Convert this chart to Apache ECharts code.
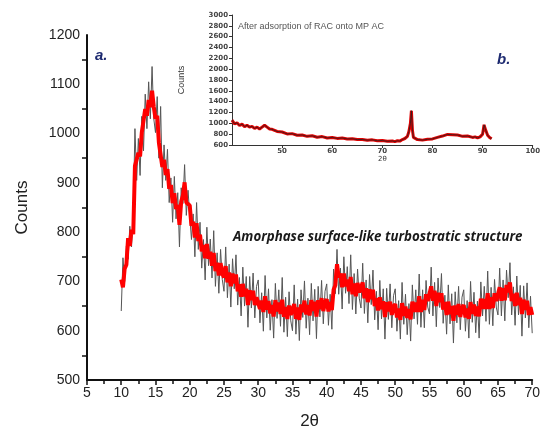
<!DOCTYPE html>
<html>
<head>
<meta charset="utf-8">
<script src="https://cdn.jsdelivr.net/npm/echarts@6/dist/echarts.min.js"></script>
<style>
  html, body { margin: 0; padding: 0; background: #fff; }
  #chart { width: 543px; height: 435px; }
</style>
</head>
<body>
<div id="chart"></div>
<script>
// main pattern, sampled every 0.25 deg from 10 to 70
var angleStart = 10
var angleStep = 0.25

// thin dark noisy trace
var rawCounts = [
  640,748,700,772,745,812,770,835,1010,905,990,915,1035,965,1080,1010,1105,1030,1136,1030,
  1002,1075,950,1055,890,977,905,968,860,910,820,913,827,880,770,890,858,937,834,885,
  885,785,837,750,860,765,820,727,785,703,810,732,786,707,803,690,758,676,765,704,
  680,770,667,735,648,746,685,754,652,708,630,729,650,710,607,710,646,717,626,690,
  703,616,677,599,712,626,685,601,663,585,696,625,683,609,708,597,668,588,679,620,
  600,693,593,664,580,683,627,701,605,666,592,696,620,684,584,690,628,702,614,680,
  695,611,674,603,725,675,765,674,727,644,750,676,730,655,754,643,716,634,725,666,
  646,737,635,703,616,714,653,723,622,680,602,702,624,685,583,686,623,695,606,671,
  685,599,661,583,698,613,674,592,655,579,693,624,683,613,715,607,683,606,702,648,
  634,729,630,698,608,707,647,716,615,672,593,693,614,675,575,679,616,690,602,668,
  683,599,661,585,700,617,678,596,660,585,699,630,690,619,721,613,688,610,704,648,
  632,727,630,703,620,723,667,738,632,689,611,711,632,692,589,691,626,697,606,670,
  595
]

// red band on top
var bandCounts = [
  704,688,726,734,788,772,805,796,934,932,961,954,1002,1000,1050,1036,1068,1054,1087,1054,
  1030,1036,981,978,932,947,916,928,888,896,859,879,847,855,815,862,874,901,860,863,
  854,813,821,789,818,782,795,761,774,747,776,746,760,732,758,721,738,712,737,716,
  708,731,698,718,690,716,696,714,680,694,669,695,670,685,652,682,662,681,652,668,
  672,644,661,638,670,643,660,635,652,629,662,639,657,634,663,628,648,624,651,632,
  628,654,624,647,622,653,638,661,633,652,631,662,640,659,629,662,644,666,640,658,
  664,639,658,642,683,692,735,708,716,688,716,690,704,680,709,674,696,670,697,678,
  674,698,666,686,658,684,664,683,650,666,641,668,644,660,628,658,639,659,632,649,
  654,627,645,622,656,630,649,626,644,623,659,638,657,638,670,638,663,642,674,660,
  662,690,661,681,650,677,658,676,643,658,632,659,634,650,620,651,632,654,628,646,
  652,627,645,624,658,634,653,630,649,629,665,644,664,644,676,644,668,646,676,660,
  660,688,661,686,662,693,678,698,660,675,650,677,652,667,634,663,642,661,632,648,
  632
]

// inset (b.)
var insetAngle = [
  40,40.5,41,41.5,42,42.5,43,43.5,44,44.5,45,45.5,46,46.5,47,47.5,48,49,50,51,
  52,53,54,55,56,57,58,59,60,61,62,63,64,65,66,67,68,69,70,71,
  72,72.5,73,73.5,74,74.5,75,75.3,75.6,75.8,76,76.2,76.5,77,78,79,80,81,82,83,
  84,85,86,87,88,88.5,89,89.5,90,90.3,90.6,91,91.4,91.8
]
var insetCounts = [
  1060,990,1010,960,985,940,965,930,945,905,930,895,930,965,930,895,890,850,840,805,
  810,780,785,760,770,742,755,730,740,722,730,712,715,700,702,688,695,678,682,668,
  675,662,678,672,700,720,760,850,1000,1233,880,740,720,700,690,705,712,740,765,795,
  790,785,760,765,740,750,730,750,800,972,880,780,740,715
]

var mainTicks = { yMin: 500, yMax: 1200, yStep: 100, xMin: 5, xMax: 70, xStep: 5 }
var insetTicks = { yMin: 600, yMax: 3000, yStep: 200, xMin: 40, xMax: 100, xStep: 10 }

function toPairs(values) {
  return values.map(function (v, i) { return [angleStart + i * angleStep, v] })
}

function plain(v) { return String(v) }

var chart = echarts.init(document.getElementById('chart'))
var font = 'Liberation Sans, Arial, sans-serif'
var insetFont = 'DejaVu Sans, sans-serif'

chart.setOption({
  animation: false,
  backgroundColor: '#fff',
  grid: [
    { left: 87, top: 35, right: 10, bottom: 53 },
    { left: 232, top: 15, right: 3, bottom: 290, show: true, backgroundColor: '#fff', borderWidth: 0, z: 10 }
  ],
  xAxis: [{
    gridIndex: 0,
    type: 'value',
    min: mainTicks.xMin,
    max: mainTicks.xMax,
    interval: mainTicks.xStep,
    name: '2\u03b8',
    nameLocation: 'middle',
    nameGap: 33,
    nameTextStyle: { fontSize: 17, color: '#222', fontFamily: font },
    axisLine: { lineStyle: { color: '#111', width: 2 } },
    axisTick: { length: 5, lineStyle: { color: '#111', width: 1.5 } },
    minorTick: { show: true, splitNumber: 2, length: 4, lineStyle: { color: '#111', width: 1.5 } },
    axisLabel: { fontSize: 14, color: '#222', fontFamily: font, margin: 6, formatter: plain },
    splitLine: { show: false }
  }, {
    gridIndex: 1,
    type: 'value',
    min: insetTicks.xMin,
    max: insetTicks.xMax,
    interval: insetTicks.xStep,
    z: 11,
    name: '2\u03b8',
    nameLocation: 'middle',
    nameGap: 11,
    nameTextStyle: { fontSize: 7, color: '#333', fontFamily: insetFont },
    axisLine: { lineStyle: { color: '#333', width: 1 } },
    axisTick: { length: 3, lineStyle: { color: '#333' } },
    axisLabel: { fontSize: 7, fontWeight: 'bold', color: '#444', fontFamily: insetFont, margin: 3, showMinLabel: false, formatter: plain },
    splitLine: { show: false }
  }],
  yAxis: [{
    gridIndex: 0,
    type: 'value',
    min: mainTicks.yMin,
    max: mainTicks.yMax,
    interval: mainTicks.yStep,
    name: 'Counts',
    nameLocation: 'middle',
    nameGap: 56,
    nameTextStyle: { fontSize: 17, color: '#222', fontFamily: font },
    axisLine: { show: true, lineStyle: { color: '#111', width: 2 } },
    axisTick: { show: false },
    minorTick: { show: true, splitNumber: 2, length: 5, lineStyle: { color: '#111', width: 1.5 } },
    axisLabel: { fontSize: 14, color: '#222', fontFamily: font, margin: 7, formatter: plain },
    splitLine: { show: false }
  }, {
    gridIndex: 1,
    type: 'value',
    min: insetTicks.yMin,
    max: insetTicks.yMax,
    interval: insetTicks.yStep,
    z: 11,
    name: 'Counts',
    nameLocation: 'middle',
    nameGap: 46,
    nameTextStyle: { fontSize: 9, color: '#333', fontFamily: font },
    axisLine: { show: true, lineStyle: { color: '#333', width: 1 } },
    axisTick: { show: true, length: 3, lineStyle: { color: '#333' } },
    axisLabel: { fontSize: 7, fontWeight: 'bold', color: '#444', fontFamily: insetFont, margin: 4, formatter: plain },
    splitLine: { show: false }
  }],
  series: [{
    name: 'raw',
    type: 'line',
    xAxisIndex: 0,
    yAxisIndex: 0,
    data: toPairs(rawCounts),
    showSymbol: false,
    lineStyle: { color: '#555', width: 1 },
    z: 2
  }, {
    name: 'band',
    type: 'line',
    xAxisIndex: 0,
    yAxisIndex: 0,
    data: toPairs(bandCounts),
    showSymbol: false,
    lineStyle: { color: '#ff0000', width: 4 },
    z: 3
  }, {
    name: 'inset red',
    type: 'line',
    xAxisIndex: 1,
    yAxisIndex: 1,
    data: insetAngle.map(function (a, i) { return [a, insetCounts[i]] }),
    showSymbol: false,
    lineStyle: { color: '#e00000', width: 3 },
    z: 12
  }, {
    name: 'inset line',
    type: 'line',
    xAxisIndex: 1,
    yAxisIndex: 1,
    data: insetAngle.map(function (a, i) { return [a, insetCounts[i]] }),
    showSymbol: false,
    lineStyle: { color: '#222', width: 0.8 },
    z: 13
  }],
  graphic: [{
    type: 'text', left: 95, top: 48, z: 20,
    style: { text: 'a.', font: 'italic bold 15px ' + font, fill: '#1d2a70' }
  }, {
    type: 'text', left: 497, top: 52, z: 20,
    style: { text: 'b.', font: 'italic bold 15px ' + font, fill: '#1d2a70' }
  }, {
    type: 'text', left: 238, top: 22, z: 20,
    style: { text: 'After adsorption of RAC onto MP AC', font: '9px ' + font, fill: '#555' }
  }, {
    type: 'text', left: 233, top: 231, z: 20,
    style: { text: 'Amorphase surface-like turbostratic structure', font: 'italic bold 13.3px Open Sans, sans-serif', fill: '#1a1a1a' }
  }]
})
</script>
</body>
</html>
